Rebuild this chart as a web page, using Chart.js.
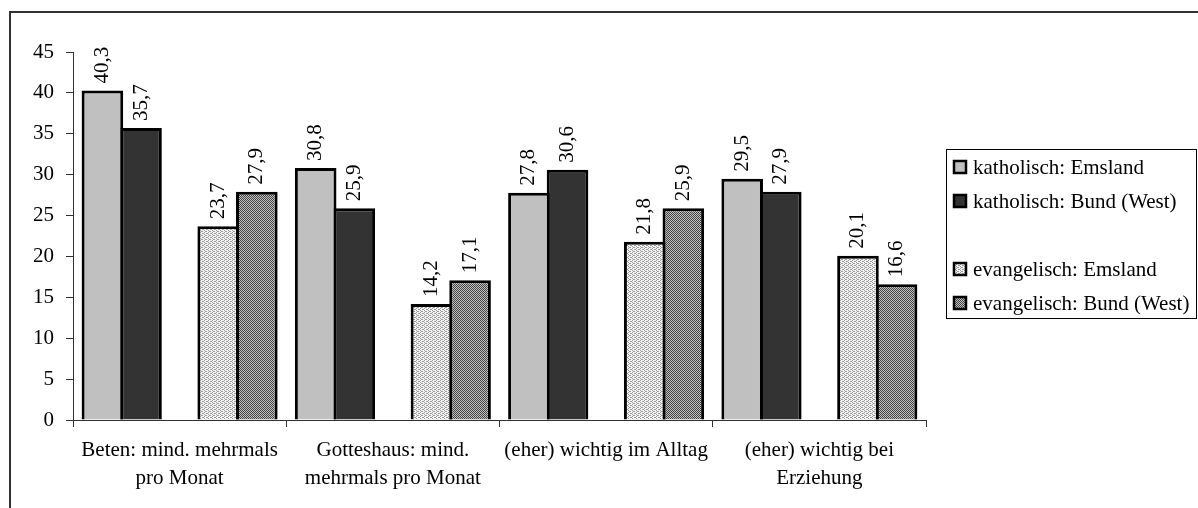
<!DOCTYPE html>
<html>
<head>
<meta charset="utf-8">
<script src="https://cdn.jsdelivr.net/npm/chart.js@4/dist/chart.umd.min.js"></script>
<style>
  html, body { margin: 0; padding: 0; background: #fff; }
  #wrap { width: 1198px; height: 508px; position: relative; }
</style>
</head>
<body>
<div id="wrap"><canvas id="c"></canvas></div>
<script>
// Survey categories (multi-line axis labels)
const categories = [
  ['Beten: mind. mehrmals', 'pro Monat'],
  ['Gotteshaus: mind.', 'mehrmals pro Monat'],
  '(eher) wichtig im Alltag',
  ['(eher) wichtig bei', 'Erziehung']
];

// Percentages per group
const kathEmsland = [40.3, 30.8, 27.8, 29.5];
const kathBund    = [35.7, 25.9, 30.6, 27.9];
const evEmsland   = [23.7, 14.2, 21.8, 20.1];
const evBund      = [27.9, 17.1, 25.9, 16.6];
const spacer      = [null, null, null, null];

const seriesNames = [
  'katholisch: Emsland',
  'katholisch: Bund (West)',
  '',
  'evangelisch: Emsland',
  'evangelisch: Bund (West)'
];

const yTicks = { min: 0, max: 45, step: 5 };

const FONT = '"Liberation Serif", "Times New Roman", serif';
const fmt = v => v.toFixed(1).replace('.', ',');

// Small dotted fills for the protestant groups
function makePattern(bg, fg, cells, size) {
  const c = document.createElement('canvas');
  c.width = size; c.height = size;
  const g = c.getContext('2d');
  g.fillStyle = bg; g.fillRect(0, 0, size, size);
  g.fillStyle = fg;
  cells.forEach(([x, y]) => g.fillRect(x, y, 1, 1));
  return g.createPattern(c, 'repeat');
}
const lightDots = makePattern('#f4f4f4', '#9a9a9a', [[0,0],[2,1],[0,2],[2,3],[1,3],[3,1]], 4);
const denseDots = makePattern('#c4c4c4', '#404040', [[0,0],[1,1],[2,0],[3,1],[0,2],[1,3],[2,2],[3,3]], 4);

const fills = ['#c0c0c0', '#333333', 'rgba(0,0,0,0)', lightDots, denseDots];
const seriesData = [kathEmsland, kathBund, spacer, evEmsland, evBund];

// Background frame (top and left edges of the chart box)
const framePlugin = {
  id: 'frame',
  beforeDraw(chart) {
    const ctx = chart.ctx;
    ctx.save();
    ctx.fillStyle = '#fff';
    ctx.fillRect(0, 0, chart.width, chart.height);
    ctx.strokeStyle = '#333';
    ctx.lineWidth = 2;
    ctx.beginPath();
    ctx.moveTo(10, chart.height + 5);
    ctx.lineTo(10, 12);
    ctx.lineTo(chart.width + 5, 12);
    ctx.stroke();
    ctx.restore();
  }
};

// Rotated value labels above each bar
const valueLabels = {
  id: 'valueLabels',
  afterDatasetsDraw(chart) {
    const ctx = chart.ctx;
    ctx.save();
    ctx.font = '21px ' + FONT;
    ctx.fillStyle = '#000';
    chart.data.datasets.forEach((ds, i) => {
      const meta = chart.getDatasetMeta(i);
      meta.data.forEach((bar, j) => {
        const v = ds.data[j];
        if (v == null) return;
        ctx.save();
        ctx.translate(bar.x, bar.y - 7);
        ctx.rotate(-Math.PI / 2);
        ctx.textAlign = 'left';
        ctx.textBaseline = 'middle';
        ctx.fillText(fmt(v), 0, 0);
        ctx.restore();
      });
    });
    ctx.restore();
  }
};

// Boxed legend on the right, with an empty row between the two confessions
const boxedLegend = {
  id: 'boxedLegend',
  afterDraw(chart) {
    const ctx = chart.ctx;
    const left = 946.5, top = 149.5, w = 250, h = 169;
    ctx.save();
    ctx.strokeStyle = '#000';
    ctx.lineWidth = 1;
    ctx.strokeRect(left, top, w, h);
    ctx.font = '21px ' + FONT;
    ctx.textAlign = 'left';
    ctx.textBaseline = 'middle';
    chart.data.datasets.forEach((ds, i) => {
      if (!ds.label) return;
      const cy = 167 + 34 * i;
      ctx.fillStyle = ds.backgroundColor;
      ctx.fillRect(954, cy - 6, 12, 12);
      ctx.lineWidth = 2.5;
      ctx.strokeStyle = '#000';
      ctx.strokeRect(954, cy - 6, 12, 12);
      ctx.fillStyle = '#000';
      ctx.fillText(ds.label, 973, cy + 1);
    });
    ctx.restore();
  }
};

const datasets = seriesData.map((d, i) => ({
  label: seriesNames[i],
  data: d,
  backgroundColor: fills[i],
  borderColor: '#000',
  borderWidth: 3,
  borderSkipped: 'bottom',
  categoryPercentage: 0.905,
  barPercentage: 1.078
}));

new Chart(document.getElementById('c'), {
  type: 'bar',
  data: { labels: categories, datasets },
  plugins: [framePlugin, valueLabels, boxedLegend],
  options: {
    responsive: true,
    maintainAspectRatio: false,
    animation: false,
    devicePixelRatio: 1,
    layout: { padding: { left: 0, right: 272, top: 52, bottom: 0 } },
    plugins: { legend: { display: false }, tooltip: { enabled: false } },
    scales: {
      x: {
        grid: { display: true, drawOnChartArea: false, drawTicks: true, tickLength: 7, color: '#303030', offset: true },
        border: { display: true, color: '#303030', width: 1 },
        ticks: { color: '#000', font: { family: FONT, size: 21, lineHeight: 1.35 }, padding: 9, maxRotation: 0, autoSkip: false },
        afterFit(s) { s.height = 88; }
      },
      y: {
        min: yTicks.min,
        max: yTicks.max,
        grid: { display: true, drawOnChartArea: false, drawTicks: true, tickLength: 7, color: '#303030' },
        border: { display: true, color: '#303030', width: 1 },
        ticks: { stepSize: yTicks.step, color: '#000', font: { family: FONT, size: 21 }, padding: 12 },
        afterFit(s) { s.width = 73; }
      }
    }
  }
});
</script>
</body>
</html>
